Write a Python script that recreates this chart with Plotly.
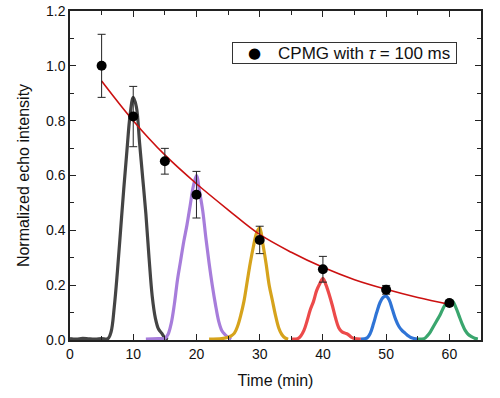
import plotly.graph_objects as go

# Echo measurement points
t_pts = [5, 10, 15, 20, 30, 40, 50, 60]
y_pts = [1.0, 0.815, 0.652, 0.53, 0.365, 0.258, 0.183, 0.135]
y_err = [0.115, 0.11, 0.047, 0.085, 0.05, 0.047, 0.016, 0.01]

# Fitted decay curve
fit_t = [5, 10, 15, 20, 25, 30, 35, 40, 45, 50, 55, 60]
fit_y = [0.945, 0.80, 0.675, 0.57, 0.475, 0.385, 0.32, 0.265, 0.22, 0.185, 0.155, 0.13]

# Echo profiles
g_t = [0, 1, 2, 3, 4, 5, 6, 6.5, 7, 7.5, 8, 8.5, 9, 9.5, 10, 10.5, 11, 11.5, 12, 12.5, 13, 13.5, 14, 14.5, 15, 15.5]
g_y = [0.005, 0.003, 0.006, 0.004, 0.003, 0.005, 0.005, 0.03, 0.12, 0.25, 0.40, 0.55, 0.69, 0.82, 0.885, 0.85, 0.72, 0.59, 0.46, 0.30, 0.16, 0.08, 0.04, 0.025, 0.008, 0.003]

p_t = [12, 14, 15, 15.5, 16, 16.5, 17, 17.5, 18, 18.5, 19, 19.5, 20, 20.5, 21, 21.5, 22, 22.5, 23, 23.5, 24, 24.5, 25, 25.5]
p_y = [0.003, 0.005, 0.006, 0.02, 0.06, 0.13, 0.22, 0.29, 0.36, 0.42, 0.49, 0.56, 0.60, 0.54, 0.47, 0.37, 0.28, 0.20, 0.13, 0.07, 0.035, 0.02, 0.01, 0.003]

o_t = [22, 24, 25, 25.5, 26, 26.5, 27, 27.5, 28, 28.5, 29, 29.5, 30, 30.5, 31, 31.5, 32, 32.5, 33, 33.5, 34, 34.5]
o_y = [0.003, 0.005, 0.01, 0.015, 0.025, 0.05, 0.09, 0.14, 0.21, 0.28, 0.34, 0.39, 0.41, 0.35, 0.28, 0.20, 0.145, 0.09, 0.045, 0.02, 0.008, 0.003]

r_t = [35, 36, 36.5, 37, 37.5, 38, 38.5, 39, 39.5, 40, 40.5, 41, 41.5, 42, 42.5, 43, 43.5, 44, 44.5, 45, 46]
r_y = [0.003, 0.005, 0.015, 0.035, 0.07, 0.11, 0.14, 0.18, 0.205, 0.225, 0.20, 0.165, 0.125, 0.08, 0.045, 0.03, 0.025, 0.02, 0.01, 0.005, 0.003]

b_t = [46, 47, 47.5, 48, 48.5, 49, 49.5, 50, 50.5, 51, 51.5, 52, 52.5, 53, 53.5, 54, 55]
b_y = [0.003, 0.008, 0.025, 0.06, 0.10, 0.135, 0.155, 0.16, 0.145, 0.11, 0.075, 0.05, 0.035, 0.025, 0.015, 0.008, 0.003]

gr_t = [55, 56, 56.5, 57, 57.5, 58, 58.5, 59, 59.5, 60, 60.5, 61, 61.5, 62, 62.5, 63, 63.5, 64, 64.5]
gr_y = [0.003, 0.005, 0.015, 0.03, 0.05, 0.07, 0.09, 0.115, 0.135, 0.143, 0.142, 0.12, 0.09, 0.06, 0.035, 0.02, 0.012, 0.006, 0.003]

profiles = [
    (g_t, g_y, "#444444"),
    (p_t, p_y, "#a77ddb"),
    (o_t, o_y, "#d6a31c"),
    (r_t, r_y, "#ec4a4a"),
    (b_t, b_y, "#2f74d6"),
    (gr_t, gr_y, "#3aa66e"),
]

x_ticks = [0, 10, 20, 30, 40, 50, 60]
y_ticks = [0.0, 0.2, 0.4, 0.6, 0.8, 1.0, 1.2]
legend_label = "CPMG with <i>τ</i> = 100 ms"

FONT = "Liberation Sans, Arial"

fig = go.Figure()
for tt, yy, col in profiles:
    fig.add_trace(go.Scatter(x=tt, y=yy, mode="lines", line=dict(color=col, width=3.2, shape="spline"),
                             showlegend=False, hoverinfo="skip"))

fig.add_trace(go.Scatter(x=fit_t, y=fit_y, mode="lines", line=dict(color="#cc1111", width=1.6, shape="spline"),
                         showlegend=False))

fig.add_trace(go.Scatter(x=t_pts, y=y_pts, mode="markers",
                         marker=dict(color="black", size=10),
                         error_y=dict(type="data", array=y_err, color="#222222", thickness=1, width=4),
                         name=legend_label, showlegend=False))

# legend box drawn as a bordered annotation plus a marker glyph
fig.add_annotation(xref="paper", yref="paper", x=0.394, y=0.906, xanchor="left", yanchor="top",
                   text=legend_label + "&nbsp;", showarrow=False, align="right", width=221, height=18,
                   bordercolor="#333333", borderwidth=1, borderpad=1, bgcolor="white",
                   font=dict(family=FONT, size=17, color="#111111"))
fig.add_annotation(xref="paper", yref="paper", x=0.4477, y=0.8723, xanchor="center", yanchor="middle",
                   text="●", showarrow=False,
                   font=dict(family="DejaVu Sans", size=15, color="black"))

axis_common = dict(showline=True, linecolor="#222222", linewidth=1.5, mirror="ticks",
                   ticks="inside", ticklen=6, tickwidth=1.2, tickcolor="#222222",
                   showgrid=False, zeroline=False, automargin=False,
                   tickfont=dict(family=FONT, size=14, color="#111111"))

fig.update_xaxes(range=[0, 65], tickvals=x_ticks,
                 minor=dict(dtick=5, ticks="inside", ticklen=4, tickwidth=1.2, tickcolor="#222222", tick0=0),
                 title=dict(text="Time (min)", font=dict(family=FONT, size=16, color="#111111"), standoff=14),
                 **axis_common)
fig.update_yaxes(range=[0, 1.2], tickvals=y_ticks, tickformat=".1f",
                 minor=dict(dtick=0.1, ticks="inside", ticklen=4, tickwidth=1.2, tickcolor="#222222", tick0=0),
                 title=dict(text="Normalized echo intensity", font=dict(family=FONT, size=16, color="#111111"), standoff=12),
                 **axis_common)

fig.update_layout(
    width=500, height=398,
    margin=dict(l=70, r=19, t=11, b=58),
    paper_bgcolor="white", plot_bgcolor="white",
)

fig.write_html("out.html", config={"displayModeBar": False},
               post_script="document.body.style.margin='0';")
